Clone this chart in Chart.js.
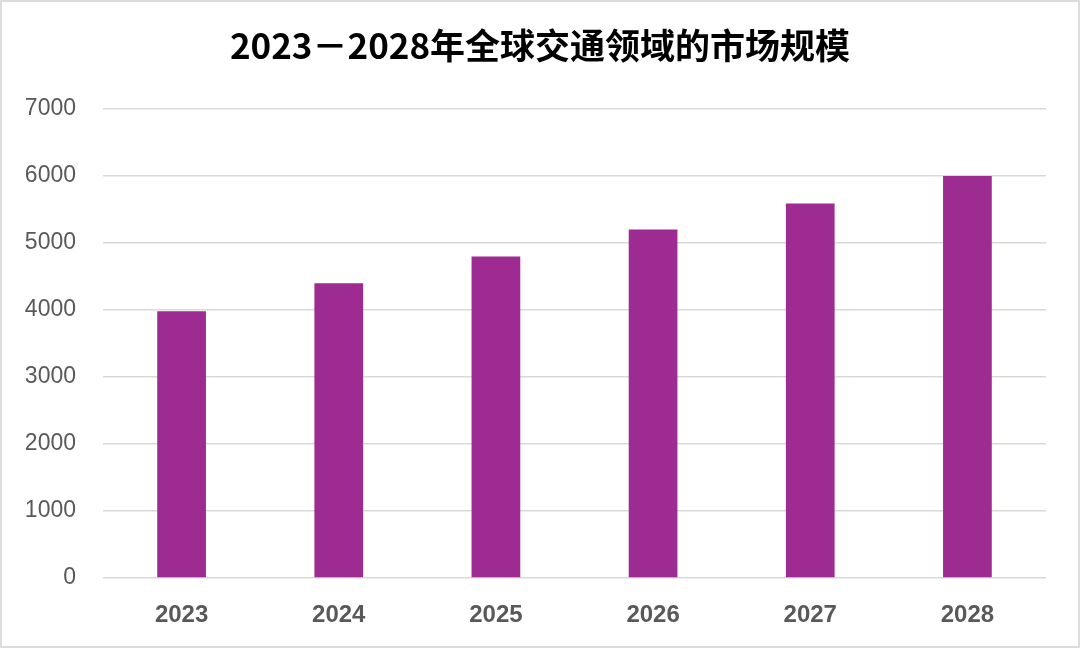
<!DOCTYPE html>
<html>
<head>
<meta charset="utf-8">
<script src="https://cdn.jsdelivr.net/npm/chart.js@4.4.1/dist/chart.umd.min.js"></script>
<style>
  html, body { margin: 0; padding: 0; background: #fff; }
  #wrap {
    width: 1080px; height: 648px; box-sizing: border-box;
    border: 2px solid #dcdcdc; background: #fff;
  }
  #marketChart { display: block; }
</style>
</head>
<body>
<div id="wrap">
  <canvas id="marketChart" width="1076" height="644"></canvas>
</div>
<script>
var years = ['2023', '2024', '2025', '2026', '2027', '2028'];
var marketSize = [3980, 4400, 4800, 5200, 5590, 6000];
var yTicks = [0, 1000, 2000, 3000, 4000, 5000, 6000, 7000];
var chartTitle = '2023－2028年全球交通领域的市场规模';

document.addEventListener('DOMContentLoaded', function() {
    var ctx = document.getElementById('marketChart').getContext('2d');
    var marketChart = new Chart(ctx, {
        type: 'bar',
        data: {
            labels: years,
            datasets: [{
                label: '市场规模',
                data: marketSize,
                backgroundColor: '#9d2b91',
                borderWidth: 0,
                categoryPercentage: 1,
                barPercentage: 0.31
            }]
        },
        options: {
            responsive: false,
            animation: false,
            layout: {
                padding: { left: 0, right: 0, top: 19, bottom: 0 }
            },
            plugins: {
                legend: { display: false },
                tooltip: { enabled: false },
                title: {
                    display: true,
                    text: chartTitle,
                    color: '#000',
                    font: { family: '"Noto Sans CJK SC", "Liberation Sans", sans-serif', size: 35, weight: 'bold' },
                    padding: { top: 4, bottom: 42 }
                }
            },
            scales: {
                x: {
                    grid: { display: false, drawTicks: false },
                    border: { display: false },
                    ticks: {
                        color: '#595959',
                        padding: 23,
                        font: { family: '"Liberation Sans", Arial, sans-serif', size: 24, weight: 'bold' }
                    },
                    afterFit: function(axis) { axis.height = 68; }
                },
                y: {
                    min: 0,
                    max: 7000,
                    afterBuildTicks: function(axis) {
                        axis.ticks = yTicks.map(function(v) { return { value: v }; });
                    },
                    grid: { color: '#d9d9d9', lineWidth: 1.5, drawTicks: false },
                    border: { display: false },
                    ticks: {
                        color: '#595959',
                        padding: 27,
                        font: { family: '"Liberation Sans", Arial, sans-serif', size: 23 },
                        callback: function(value) { return String(value); }
                    },
                    afterFit: function(axis) { axis.width = 101; }
                },
                // empty right-hand gutter so the title stays centred on the canvas
                yRight: {
                    position: 'right',
                    display: true,
                    grid: { display: false, drawTicks: false },
                    border: { display: false },
                    ticks: { display: false },
                    afterFit: function(axis) { axis.width = 32; }
                }
            }
        }
    });
});
</script>
</body>
</html>
